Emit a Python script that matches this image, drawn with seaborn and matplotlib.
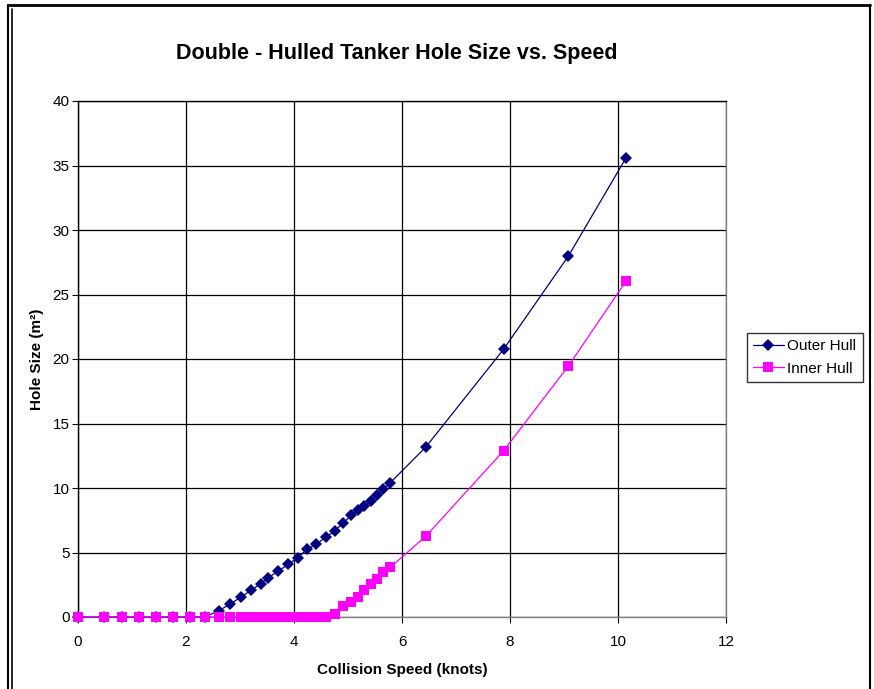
import matplotlib
matplotlib.use("Agg")
import matplotlib.pyplot as plt
import seaborn as sns
import pandas as pd
from matplotlib.lines import Line2D

speed = [0, 0.49, 0.82, 1.13, 1.44, 1.75, 2.07, 2.35, 2.61, 2.81, 3.01, 3.21,
         3.38, 3.52, 3.71, 3.89, 4.07, 4.24, 4.41, 4.59, 4.76, 4.91, 5.06, 5.18,
         5.30, 5.42, 5.54, 5.65, 5.78, 6.44, 7.88, 9.08, 10.15]
outer_hull = [0, 0, 0, 0, 0, 0, 0, 0, 0.5, 0.98, 1.53, 2.08, 2.58, 3.04, 3.56,
              4.08, 4.6, 5.24, 5.65, 6.18, 6.7, 7.28, 7.89, 8.33, 8.63, 9.03,
              9.47, 9.89, 10.4, 13.17, 20.75, 27.97, 35.6]
inner_hull = [0, 0, 0, 0, 0, 0, 0, 0, 0, 0, 0, 0, 0, 0, 0, 0, 0, 0, 0, 0, 0.23,
              0.86, 1.15, 1.54, 2.07, 2.54, 2.95, 3.5, 3.84, 6.26, 12.88, 19.45,
              26.05]
series_names = ["Outer Hull", "Inner Hull"]
x_ticks = [0, 2, 4, 6, 8, 10, 12]
y_ticks = [0, 5, 10, 15, 20, 25, 30, 35, 40]

sns.set_theme(style="white")
plt.rcParams["font.family"] = ["Liberation Sans", "DejaVu Sans"]
plt.rcParams["text.color"] = "black"
plt.rcParams["axes.labelcolor"] = "black"

df = pd.concat([
    pd.DataFrame({"speed": speed, "size": outer_hull, "series": series_names[0]}),
    pd.DataFrame({"speed": speed, "size": inner_hull, "series": series_names[1]}),
])

fig = plt.figure(figsize=(8.74, 6.89), dpi=100)
ax = fig.add_axes([78 / 874, 1 - 617 / 689, (726 - 78) / 874, (617 - 101) / 689])

colors = {"Outer Hull": "#000080", "Inner Hull": "#FF00FF"}
markers = {"Outer Hull": "D", "Inner Hull": "s"}
sizes = {"Outer Hull": 6.5, "Inner Hull": 7.5}
for name in series_names:
    sub = df[df["series"] == name]
    sns.lineplot(data=sub, x="speed", y="size", ax=ax, color=colors[name],
                 marker=markers[name], markersize=sizes[name], markeredgewidth=0,
                 linewidth=0.9, label=name, sort=False, clip_on=False,
                 zorder=4 if name == "Inner Hull" else 3)

ax.set_xlim(0, 12)
ax.set_ylim(0, 40)
ax.set_xticks(x_ticks)
ax.set_yticks(y_ticks)
ax.tick_params(axis="both", labelsize=11, colors="black", length=4, width=0.8,
               direction="out", bottom=True, left=True, pad=2)
ax.tick_params(axis="x", pad=9)
ax.grid(True, color="black", linewidth=0.9)
ax.set_axisbelow(True)
for side, sp in ax.spines.items():
    sp.set_color("#808080")
    sp.set_linewidth(1.0)
ax.spines["left"].set_color("black")
ax.spines["top"].set_color("black")

ax.set_xlabel("Collision Speed (knots)", fontsize=11, fontweight="bold", labelpad=10)
ax.set_ylabel("Hole Size (m²)", fontsize=11, fontweight="bold", labelpad=6)
fig.text(397 / 874, 1 - 54 / 689, "Double - Hulled Tanker Hole Size vs. Speed",
         ha="center", va="center", fontsize=15.5, fontweight="bold")

leg = ax.legend(loc="upper left", bbox_to_anchor=(747 / 874, 1 - 333 / 689),
                bbox_transform=fig.transFigure, frameon=True, fancybox=False,
                fontsize=11, handlelength=2.0, borderpad=0.4, labelspacing=0.55,
                handletextpad=0.25, borderaxespad=0)
leg.get_frame().set_edgecolor("black")
leg.get_frame().set_linewidth(1.0)

# outer chart border
W, H = 874, 689
def fx(px): return px / W
def fy(py): return 1 - py / H
fig.add_artist(Line2D([fx(8), fx(8)], [fy(5), 0], color="black", lw=1.5, transform=fig.transFigure))
fig.add_artist(Line2D([fx(12), fx(12)], [fy(9), 0], color="black", lw=1.2, transform=fig.transFigure))
fig.add_artist(Line2D([fx(8), fx(870)], [fy(5), fy(5)], color="black", lw=2, transform=fig.transFigure))
fig.add_artist(Line2D([fx(870), fx(870)], [fy(5), 0], color="black", lw=1.5, transform=fig.transFigure))

fig.savefig("out.png", dpi=100)
